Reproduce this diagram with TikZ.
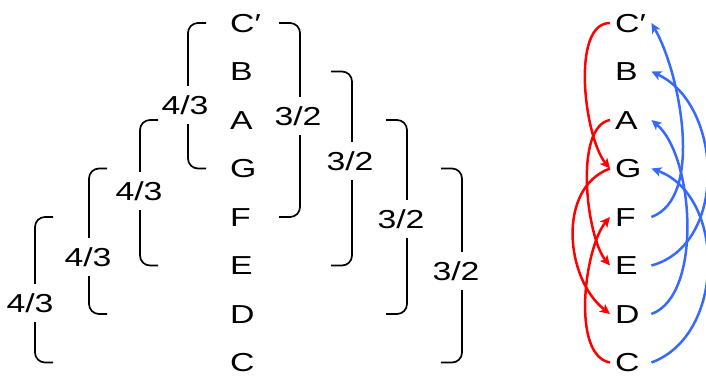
\documentclass[tikz,border=0pt]{standalone}
\usepackage{fontspec}
\setmainfont{Liberation Sans}[FakeStretch=1.3]
\usetikzlibrary{arrows.meta}
\definecolor{do}{RGB}{255,0,0}
\definecolor{xanh}{RGB}{55,105,255}
\begin{document}
\begin{tikzpicture}[x=1pt,y=1pt,font=\fontsize{26}{30}\selectfont,
    chu/.style={anchor=west,text width=31pt,align=left,inner xsep=5pt,inner ysep=0pt,text height=18.6pt,text depth=0pt},
    so/.style={fill=white,inner xsep=1pt,inner ysep=10pt,text height=18.6pt,text depth=0pt},
    ngoac/.style={line width=1.7pt,rounded corners=10pt},
    cung/.style={line width=2.5pt,-{Stealth[length=10pt,width=9.5pt,inset=2.5pt]}}]
    \useasboundingbox (0,0) rectangle (706,-376);
    \def\h{48.5}%khoảng cách dòng
    \foreach \i/\t in {0/C′,1/B,2/A,3/G,4/F,5/E,6/D,7/C}{
        \path (225,-23-\h*\i) node[chu] (l\i) {\t};
        \path (610,-23-\h*\i) node[chu] (r\i) {\t};
    }
    %ngoặc 4/3
    \foreach \vx/\a/\b/\lx/\ly in {188/0/3/185/-105,140/2/5/139/-191,89/3/6/88/-257,35/4/7/30/-303}{
        \draw[ngoac] (\vx+18,0 |- l\a) -- (\vx,0 |- l\a) -- (\vx,0 |- l\b) -- (\vx+18,0 |- l\b);
        \path (\lx,\ly) node[so] (p\a) {4/3};
    }
    %ngoặc 3/2
    \foreach \vx/\a/\b/\lx/\ly in {300/0/4/298/-116,352/1/5/350/-161,407/2/6/401/-219,462/3/7/456/-271}{
        \draw[ngoac] (\vx-21,0 |- l\a) -- (\vx,0 |- l\a) -- (\vx,0 |- l\b) -- (\vx-21,0 |- l\b);
        \path (\lx,\ly) node[so] (q\a) {3/2};
    }
    \foreach \a/\b/\go/\gi/\lo in {0/3/180/130/0.7,2/5/190/130/0.65,3/6/200/142/1,7/4/170/230/0.7}
        \draw[cung,do] (r\a.west) to[out=\go,in=\gi,looseness=\lo] (r\b.west);
    \foreach \a/\b/\go/\gi/\lo in {4/0/20/-60/0.75,5/1/15/-25/1.05,6/2/20/-40/0.73,7/3/20/-20/1.05}
        \draw[cung,xanh] (r\a.east) to[out=\go,in=\gi,looseness=\lo] (r\b.east);
\end{tikzpicture}
\end{document}
